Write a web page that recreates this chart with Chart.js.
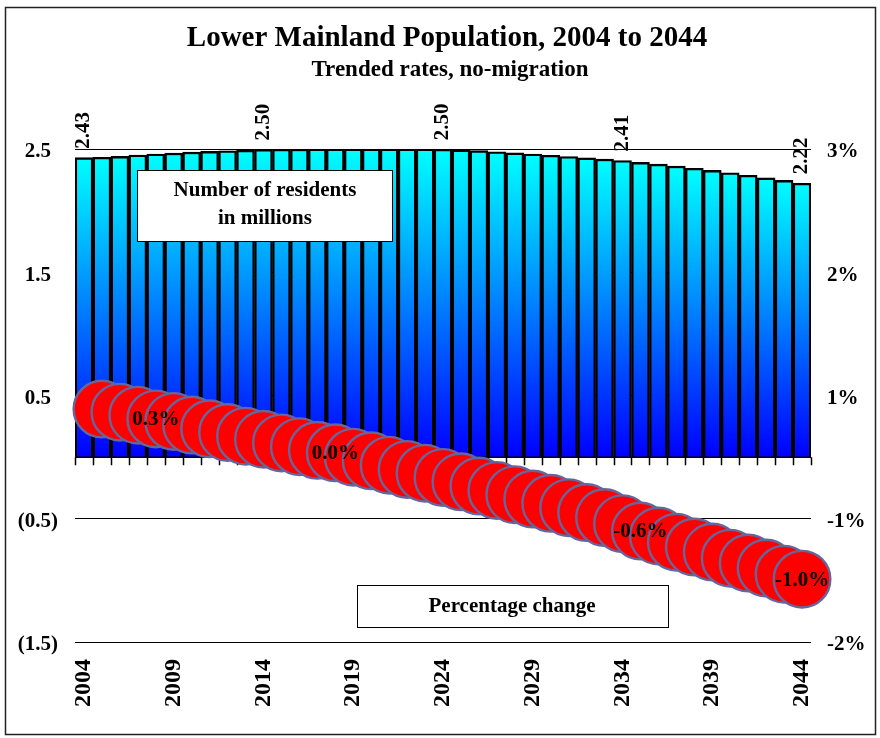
<!DOCTYPE html>
<html>
<head>
<meta charset="utf-8">
<script src="https://cdn.jsdelivr.net/npm/chart.js@4.4.1/dist/chart.umd.min.js"></script>
<style>
  html, body { margin: 0; padding: 0; background: #fff; }
  #wrap { width: 880px; height: 738px; }
</style>
</head>
<body>
<div id="wrap"><canvas id="popChart" width="880" height="738"></canvas></div>
<script>
const years = ['2004','2005','2006','2007','2008','2009','2010','2011','2012','2013',
               '2014','2015','2016','2017','2018','2019','2020','2021','2022','2023',
               '2024','2025','2026','2027','2028','2029','2030','2031','2032','2033',
               '2034','2035','2036','2037','2038','2039','2040','2041','2042','2043','2044'];

// residents, millions
const population = [2.430, 2.433, 2.440, 2.451, 2.459, 2.467, 2.475, 2.481, 2.486, 2.490,
                    2.496, 2.498, 2.499, 2.500, 2.500, 2.500, 2.500, 2.500, 2.500, 2.500,
                    2.498, 2.493, 2.487, 2.478, 2.469, 2.459, 2.449, 2.439, 2.428, 2.418,
                    2.407, 2.392, 2.377, 2.361, 2.344, 2.326, 2.307, 2.287, 2.266, 2.245, 2.222];

// yearly percentage change, 2005 to 2044
const pctChange = [0.39, 0.365, 0.34, 0.31, 0.29, 0.26, 0.23, 0.20, 0.17, 0.145,
                   0.115, 0.085, 0.055, 0.035, 0.00, -0.03, -0.065, -0.10, -0.13, -0.165,
                   -0.20, -0.235, -0.27, -0.305, -0.34, -0.375, -0.41, -0.45, -0.49, -0.54,
                   -0.60, -0.64, -0.69, -0.73, -0.77, -0.82, -0.86, -0.90, -0.95, -0.99];

const yearTickEvery = 5;
const barLabelYears = ['2004', '2014', '2024', '2034', '2044'];
const pctLabelYears = ['2008', '2018', '2035', '2044'];

const yTickValues = [-1.5, -0.5, 0.5, 1.5, 2.5];
const leftTickLabels = ['(1.5)', '(0.5)', '0.5\u2004', '1.5\u2004', '2.5\u2004'];
const rightTickLabels = ['-2%', '-1%', '1%', '2%', '3%'];

const FONT = "'Liberation Serif', 'Times New Roman', serif";
Chart.defaults.font.family = FONT;
Chart.defaults.font.weight = 'bold';
Chart.defaults.font.size = 21;
Chart.defaults.color = '#000';

const overlay = {
  id: 'overlay',
  beforeDatasetDraw(chart, args) {
    if (args.index !== 1) return;
    const { ctx, chartArea, scales } = chart;
    const y0 = scales.y.getPixelForValue(0);
    const xs = scales.x;
    const half = (xs.getPixelForValue(1) - xs.getPixelForValue(0)) / 2;
    ctx.save();
    ctx.strokeStyle = '#000';
    ctx.lineWidth = 1.5;
    ctx.beginPath();
    ctx.moveTo(chartArea.left, y0);
    ctx.lineTo(chartArea.right, y0);
    for (let i = 0; i <= years.length; i++) {
      const x = Math.round(xs.getPixelForValue(Math.min(i, years.length - 1)) + (i === years.length ? half : -half)) + 0.5;
      ctx.moveTo(x, y0);
      ctx.lineTo(x, y0 + 8);
    }
    ctx.stroke();

    // "Number of residents" box
    ctx.fillStyle = '#fff';
    ctx.lineWidth = 1;
    ctx.fillRect(137, 170, 255, 71);
    ctx.strokeRect(137.5, 170.5, 255, 71);
    ctx.fillStyle = '#000';
    ctx.font = 'bold 21px ' + FONT;
    ctx.textAlign = 'center';
    ctx.textBaseline = 'middle';
    ctx.fillText('Number of residents', 265, 191);
    ctx.fillText('in millions', 265, 219);
    ctx.restore();
  },
  afterDatasetsDraw(chart) {
    const { ctx } = chart;
    const bars = chart.getDatasetMeta(0).data;
    const dots = chart.getDatasetMeta(1).data;
    ctx.save();
    ctx.fillStyle = '#000';
    ctx.font = 'bold 21px ' + FONT;
    barLabelYears.forEach(yr => {
      const i = years.indexOf(yr);
      const el = bars[i];
      ctx.save();
      ctx.translate(el.x, el.y - 9);
      ctx.rotate(-Math.PI / 2);
      ctx.textAlign = 'left';
      ctx.textBaseline = 'middle';
      ctx.fillText(population[i].toFixed(2), 0, 0);
      ctx.restore();
    });
    ctx.textAlign = 'center';
    ctx.textBaseline = 'middle';
    pctLabelYears.forEach(yr => {
      const i = years.indexOf(yr);
      const el = dots[i];
      ctx.fillText(pctChange[i - 1].toFixed(1) + '%', el.x, el.y + 1);
    });

    // "Percentage change" box
    ctx.fillStyle = '#fff';
    ctx.lineWidth = 1;
    ctx.strokeStyle = '#000';
    ctx.fillRect(357, 585, 311, 42);
    ctx.strokeRect(357.5, 585.5, 311, 42);
    ctx.fillStyle = '#000';
    ctx.fillText('Percentage change', 512, 607);
    ctx.restore();
  },
  afterDraw(chart) {
    const { ctx } = chart;
    ctx.save();
    ctx.fillStyle = '#000';
    ctx.textAlign = 'center';
    ctx.textBaseline = 'middle';
    ctx.font = 'bold 29px ' + FONT;
    ctx.fillText('Lower Mainland Population, 2004 to 2044', 447, 39);
    ctx.font = 'bold 23px ' + FONT;
    ctx.fillText('Trended rates, no-migration', 450, 70);
    ctx.strokeStyle = '#222';
    ctx.lineWidth = 1.5;
    ctx.strokeRect(5.5, 7.5, 870, 727);
    ctx.restore();
  }
};

const ctx = document.getElementById('popChart').getContext('2d');
new Chart(ctx, {
  data: {
    labels: years,
    datasets: [{
      type: 'bar',
      label: 'Number of residents in millions',
      data: population,
      order: 1,
      yAxisID: 'y',
      backgroundColor(c) {
        const chart = c.chart;
        if (!chart.chartArea || c.type !== 'data') return '#00ffff';
        const ys = chart.scales.y;
        const top = ys.getPixelForValue(c.raw);
        const base = ys.getPixelForValue(0);
        const g = chart.ctx.createLinearGradient(0, top, 0, base);
        g.addColorStop(0, '#00ffff');
        g.addColorStop(1, '#0000ff');
        return g;
      },
      borderColor: '#000',
      borderWidth: 2.4,
      barPercentage: 1,
      categoryPercentage: 1
    }, {
      type: 'line',
      label: 'Percentage change',
      data: [null].concat(pctChange),
      order: 0,
      yAxisID: 'y2',
      showLine: false,
      clip: false,
      pointRadius: 28.3,
      pointHoverRadius: 28.3,
      pointBackgroundColor: '#ff0000',
      pointBorderColor: '#66669c',
      pointBorderWidth: 2.4
    }]
  },
  options: {
    responsive: false,
    animation: false,
    layout: { padding: { top: 149, left: 0, right: 0, bottom: 0 } },
    plugins: {
      legend: { display: false },
      title: { display: false },
      tooltip: { enabled: false }
    },
    scales: {
      x: {
        type: 'category',
        offset: true,
        grid: { display: false, drawTicks: false },
        border: { display: false },
        afterFit(s) { s.height = 96; },
        ticks: {
          autoSkip: false,
          minRotation: 90,
          maxRotation: 90,
          padding: 17,
          font: { size: 24, weight: 'bold' },
          callback(v, i) { return i % yearTickEvery === 0 ? years[i] : ''; }
        }
      },
      y: {
        position: 'left',
        min: -1.5,
        max: 2.5,
        afterBuildTicks(s) { s.ticks = yTickValues.map(v => ({ value: v })); },
        afterFit(s) { s.width = 75; },
        grid: { color: '#000', lineWidth: 1, drawTicks: false },
        border: { display: false },
        ticks: {
          padding: 17,
          labelOffset: 3,
          callback(v, i) { return leftTickLabels[i]; }
        }
      },
      y2: {
        position: 'right',
        min: -1.5,
        max: 2.5,
        afterBuildTicks(s) { s.ticks = yTickValues.map(v => ({ value: v })); },
        afterFit(s) { s.width = 69; },
        grid: { display: false, drawTicks: false },
        border: { display: false },
        ticks: {
          padding: 16,
          labelOffset: 3,
          callback(v, i) { return rightTickLabels[i]; }
        }
      }
    }
  },
  plugins: [overlay]
});
</script>
</body>
</html>
